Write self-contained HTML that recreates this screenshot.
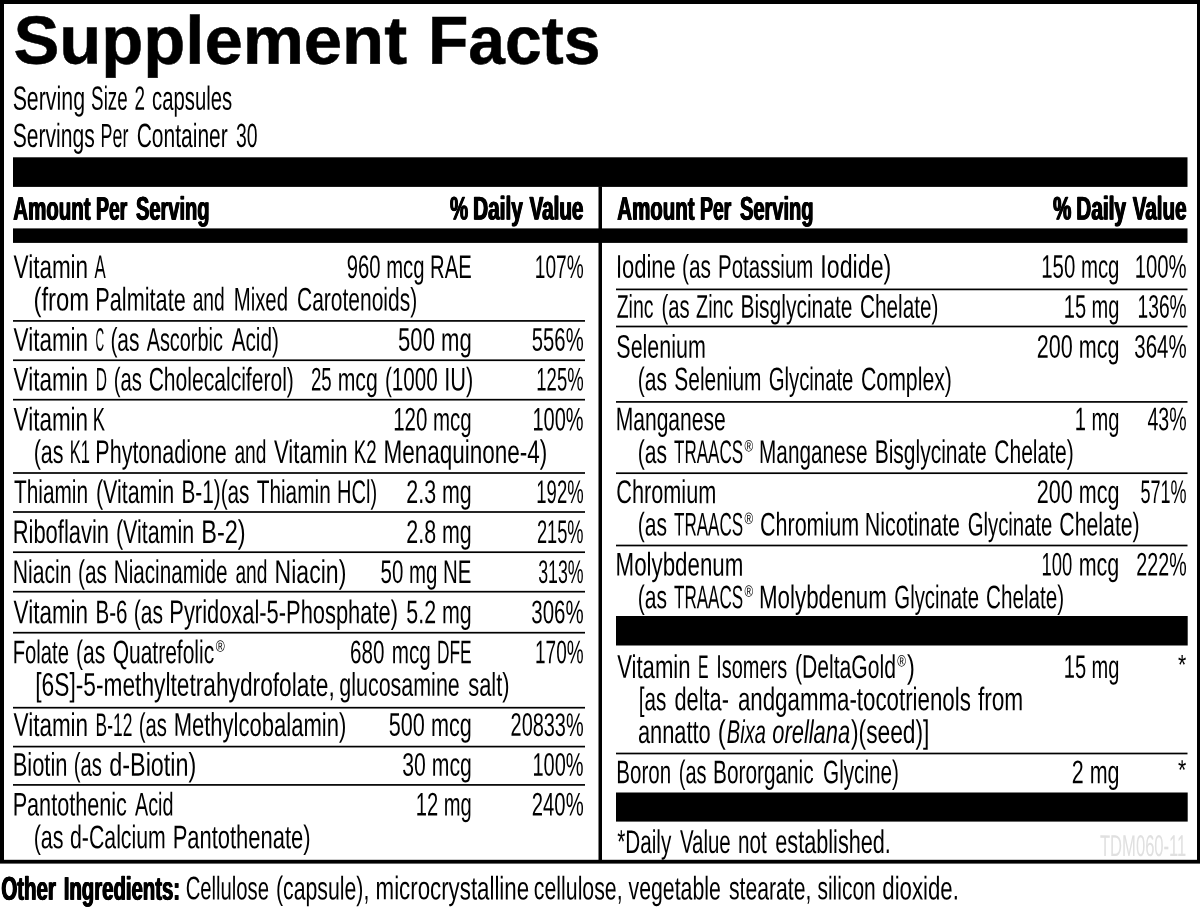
<!DOCTYPE html>
<html lang="en"><head><meta charset="utf-8"><title>Supplement Facts</title>
<style>
html,body{margin:0;padding:0;background:#fff}
#p{filter:grayscale(1);position:relative;width:1200px;height:919px;overflow:hidden;background:#fff;color:#000;font-family:"Liberation Sans",sans-serif}
#p span{position:absolute;left:0;top:0;white-space:nowrap;transform-origin:0 0;line-height:1;font-weight:400}
.r{font-size:32.7px}
.a{font-size:28px}
.h{font-size:33.5px}
.i{font-size:32.7px;font-style:italic}
#p .b{font-size:32.8px;font-weight:700;-webkit-text-stroke:.3px #000;text-shadow:.9px 0 0 #000,-.9px 0 0 #000}
#p .t{font-size:68px;font-weight:700;-webkit-text-stroke:.5px #000}
.g{font-size:30px;color:#e0e0e0}
.s{font-size:16.5px}
</style></head>
<body><div id="p">
<svg width="1200" height="919" viewBox="0 0 1200 919" style="position:absolute;left:0;top:0" fill="#000">
<rect x="0" y="0" width="1200" height="4"/>
<rect x="0" y="0" width="4" height="863"/>
<rect x="1197" y="0" width="3" height="863"/>
<rect x="0" y="859.8" width="1200" height="3.8"/>
<rect x="13" y="157.3" width="1174.5" height="29.6"/>
<rect x="13" y="228.4" width="1174.5" height="14.5"/>
<rect x="598.5" y="186.5" width="3.5" height="674"/>
<rect x="616" y="616" width="571.7" height="29.5"/>
<rect x="616" y="792.5" width="571.7" height="29.1"/>
<rect x="13" y="320.05" width="572" height="1.7"/>
<rect x="13" y="359.4" width="572" height="1.7"/>
<rect x="13" y="398.85" width="572" height="1.7"/>
<rect x="13" y="472.15" width="572" height="1.7"/>
<rect x="13" y="511.15" width="572" height="1.7"/>
<rect x="13" y="551.35" width="572" height="1.7"/>
<rect x="13" y="590.85" width="572" height="1.7"/>
<rect x="13" y="631.85" width="572" height="1.7"/>
<rect x="13" y="706.85" width="572" height="1.7"/>
<rect x="13" y="745.75" width="572" height="1.7"/>
<rect x="13" y="784.05" width="572" height="1.7"/>
<rect x="616" y="288.55" width="571.5" height="1.7"/>
<rect x="616" y="325.65" width="571.5" height="1.7"/>
<rect x="616" y="401.05" width="571.5" height="1.7"/>
<rect x="616" y="472.35" width="571.5" height="1.7"/>
<rect x="616" y="544.65" width="571.5" height="1.7"/>
<rect x="616" y="752.65" width="571.5" height="1.7"/>
</svg>
<div class="l"><span class="t" style="transform:translate(13.49px,5.58px) rotate(0.035deg) scaleX(1.0114)">Supplement</span></div>
<div class="l"><span class="t" style="transform:translate(428.02px,5.64px) rotate(0.037deg) scaleX(0.9708)">Facts</span></div>
<div class="l"><span class="h" style="transform:translate(12.66px,81.76px) rotate(0.056deg) scaleX(0.6372)">Serving</span> <span class="h" style="transform:translate(91.14px,81.78px) rotate(0.063deg) scaleX(0.5603)">Size</span> <span class="h" style="transform:translate(134.44px,81.79px) rotate(0.063deg) scaleX(0.5625)">2</span> <span class="h" style="transform:translate(152.09px,81.76px) rotate(0.059deg) scaleX(0.6055)">capsules</span></div>
<div class="l"><span class="h" style="transform:translate(12.67px,118.96px) rotate(0.056deg) scaleX(0.6299)">Servings</span> <span class="h" style="transform:translate(100.64px,118.98px) rotate(0.067deg) scaleX(0.5323)">Per</span> <span class="h" style="transform:translate(136.67px,118.95px) rotate(0.057deg) scaleX(0.6274)">Container</span> <span class="h" style="transform:translate(236.12px,118.99px) rotate(0.061deg) scaleX(0.5781)">30</span></div>
<div class="l"><span class="b" style="transform:translate(13.30px,192.76px) rotate(0.057deg) scaleX(0.6245)">Amount</span> <span class="b" style="transform:translate(96.13px,192.78px) rotate(0.061deg) scaleX(0.5869)">Per</span> <span class="b" style="transform:translate(136.00px,192.76px) rotate(0.058deg) scaleX(0.6113)">Serving</span></div>
<div class="l"><span class="b" style="transform:translate(450.00px,192.54px) rotate(0.057deg) scaleX(0.6207)">%</span> <span class="b" style="transform:translate(473.13px,192.53px) rotate(0.056deg) scaleX(0.6338)">Daily</span> <span class="b" style="transform:translate(529.60px,192.52px) rotate(0.057deg) scaleX(0.6273)">Value</span></div>
<div class="l"><span class="b" style="transform:translate(617.30px,192.76px) rotate(0.057deg) scaleX(0.6245)">Amount</span> <span class="b" style="transform:translate(700.13px,192.78px) rotate(0.061deg) scaleX(0.5869)">Per</span> <span class="b" style="transform:translate(740.00px,192.76px) rotate(0.058deg) scaleX(0.6113)">Serving</span></div>
<div class="l"><span class="b" style="transform:translate(1053.20px,192.54px) rotate(0.057deg) scaleX(0.6207)">%</span> <span class="b" style="transform:translate(1076.33px,192.53px) rotate(0.056deg) scaleX(0.6338)">Daily</span> <span class="b" style="transform:translate(1132.80px,192.52px) rotate(0.057deg) scaleX(0.6273)">Value</span></div>
<div class="l"><span class="r" style="transform:translate(13.60px,250.92px) rotate(0.052deg) scaleX(0.6873)">Vitamin</span> <span class="r" style="transform:translate(94.50px,250.94px) rotate(0.069deg) scaleX(0.5136)">A</span></div>
<div class="l"><span class="r" style="transform:translate(346.88px,250.89px) rotate(0.057deg) scaleX(0.6192)">960 mcg RAE</span></div>
<div class="l"><span class="r" style="transform:translate(534.83px,250.92px) rotate(0.061deg) scaleX(0.5836)">107%</span></div>
<div class="l"><span class="r" style="transform:translate(33.54px,283.58px) rotate(0.049deg) scaleX(0.7298)">(from</span> <span class="r" style="transform:translate(95.37px,283.56px) rotate(0.054deg) scaleX(0.6635)">Palmitate</span> <span class="r" style="transform:translate(192.71px,283.58px) rotate(0.061deg) scaleX(0.5863)">and</span> <span class="r" style="transform:translate(233.75px,283.57px) rotate(0.057deg) scaleX(0.6225)">Mixed</span> <span class="r" style="transform:translate(297.06px,283.54px) rotate(0.055deg) scaleX(0.6420)">Carotenoids)</span></div>
<div class="l"><span class="r" style="transform:translate(13.60px,323.77px) rotate(0.052deg) scaleX(0.6873)">Vitamin</span> <span class="r" style="transform:translate(95.64px,323.79px) rotate(0.098deg) scaleX(0.3636)">C</span> <span class="r" style="transform:translate(110.42px,323.79px) rotate(0.055deg) scaleX(0.6409)">(as</span> <span class="r" style="transform:translate(146.70px,323.76px) rotate(0.058deg) scaleX(0.6080)">Ascorbic</span> <span class="r" style="transform:translate(231.70px,323.78px) rotate(0.056deg) scaleX(0.6337)">Acid)</span></div>
<div class="l"><span class="r" style="transform:translate(398.07px,323.77px) rotate(0.053deg) scaleX(0.6762)">500 mg</span></div>
<div class="l"><span class="r" style="transform:translate(531.88px,323.77px) rotate(0.057deg) scaleX(0.6193)">556%</span></div>
<div class="l"><span class="r" style="transform:translate(13.60px,363.57px) rotate(0.052deg) scaleX(0.6873)">Vitamin</span> <span class="r" style="transform:translate(95.75px,363.59px) rotate(0.075deg) scaleX(0.4762)">D</span> <span class="r" style="transform:translate(113.76px,363.59px) rotate(0.057deg) scaleX(0.6200)">(as</span> <span class="r" style="transform:translate(148.66px,363.53px) rotate(0.055deg) scaleX(0.6448)">Cholecalciferol)</span></div>
<div class="l"><span class="r" style="transform:translate(310.93px,363.59px) rotate(0.062deg) scaleX(0.5705)">25</span> <span class="r" style="transform:translate(337.70px,363.58px) rotate(0.055deg) scaleX(0.6488)">mcg</span> <span class="r" style="transform:translate(384.94px,363.57px) rotate(0.056deg) scaleX(0.6317)">(1000</span> <span class="r" style="transform:translate(444.20px,363.59px) rotate(0.053deg) scaleX(0.6669)">IU)</span></div>
<div class="l"><span class="r" style="transform:translate(536.37px,363.57px) rotate(0.063deg) scaleX(0.5650)">125%</span></div>
<div class="l"><span class="r" style="transform:translate(13.60px,403.47px) rotate(0.052deg) scaleX(0.6873)">Vitamin</span> <span class="r" style="transform:translate(92.88px,403.49px) rotate(0.063deg) scaleX(0.5600)">K</span></div>
<div class="l"><span class="r" style="transform:translate(393.25px,403.46px) rotate(0.057deg) scaleX(0.6261)">120 mcg</span></div>
<div class="l"><span class="r" style="transform:translate(532.53px,403.47px) rotate(0.058deg) scaleX(0.6115)">100%</span></div>
<div class="l"><span class="r" style="transform:translate(33.69px,435.94px) rotate(0.054deg) scaleX(0.6572)">(as</span> <span class="r" style="transform:translate(69.69px,435.94px) rotate(0.070deg) scaleX(0.5054)">K1</span> <span class="r" style="transform:translate(95.39px,435.89px) rotate(0.054deg) scaleX(0.6572)">Phytonadione</span> <span class="r" style="transform:translate(234.41px,435.93px) rotate(0.061deg) scaleX(0.5863)">and</span> <span class="r" style="transform:translate(274.00px,435.92px) rotate(0.052deg) scaleX(0.6780)">Vitamin</span> <span class="r" style="transform:translate(353.86px,435.94px) rotate(0.062deg) scaleX(0.5706)">K2</span> <span class="r" style="transform:translate(383.62px,435.88px) rotate(0.052deg) scaleX(0.6875)">Menaquinone-4)</span></div>
<div class="l"><span class="r" style="transform:translate(14.00px,475.96px) rotate(0.056deg) scaleX(0.6370)">Thiamin</span> <span class="r" style="transform:translate(95.99px,475.96px) rotate(0.054deg) scaleX(0.6545)">(Vitamin</span> <span class="r" style="transform:translate(181.43px,475.97px) rotate(0.056deg) scaleX(0.6354)">B-1)(as</span> <span class="r" style="transform:translate(256.70px,475.96px) rotate(0.056deg) scaleX(0.6370)">Thiamin</span> <span class="r" style="transform:translate(337.07px,475.98px) rotate(0.058deg) scaleX(0.6133)">HCl)</span></div>
<div class="l"><span class="r" style="transform:translate(406.35px,475.97px) rotate(0.054deg) scaleX(0.6547)">2.3 mg</span></div>
<div class="l"><span class="r" style="transform:translate(536.37px,475.97px) rotate(0.063deg) scaleX(0.5650)">192%</span></div>
<div class="l"><span class="r" style="transform:translate(12.66px,515.96px) rotate(0.053deg) scaleX(0.6719)">Riboflavin</span> <span class="r" style="transform:translate(115.99px,515.96px) rotate(0.054deg) scaleX(0.6545)">(Vitamin</span> <span class="r" style="transform:translate(201.26px,515.98px) rotate(0.049deg) scaleX(0.7189)">B-2)</span></div>
<div class="l"><span class="r" style="transform:translate(406.35px,515.97px) rotate(0.054deg) scaleX(0.6547)">2.8 mg</span></div>
<div class="l"><span class="r" style="transform:translate(536.94px,515.97px) rotate(0.064deg) scaleX(0.5580)">215%</span></div>
<div class="l"><span class="r" style="transform:translate(12.71px,555.97px) rotate(0.055deg) scaleX(0.6469)">Niacin</span> <span class="r" style="transform:translate(78.03px,555.99px) rotate(0.056deg) scaleX(0.6363)">(as</span> <span class="r" style="transform:translate(113.74px,555.94px) rotate(0.056deg) scaleX(0.6322)">Niacinamide</span> <span class="r" style="transform:translate(235.41px,555.98px) rotate(0.061deg) scaleX(0.5863)">and</span> <span class="r" style="transform:translate(274.59px,555.97px) rotate(0.050deg) scaleX(0.7053)">Niacin)</span></div>
<div class="l"><span class="r" style="transform:translate(380.62px,555.95px) rotate(0.057deg) scaleX(0.6253)">50 mg NE</span></div>
<div class="l"><span class="r" style="transform:translate(538.21px,555.97px) rotate(0.065deg) scaleX(0.5427)">313%</span></div>
<div class="l"><span class="r" style="transform:translate(13.60px,596.17px) rotate(0.052deg) scaleX(0.6873)">Vitamin</span> <span class="r" style="transform:translate(95.44px,596.18px) rotate(0.056deg) scaleX(0.6291)">B-6</span> <span class="r" style="transform:translate(133.71px,596.19px) rotate(0.055deg) scaleX(0.6432)">(as</span> <span class="r" style="transform:translate(169.36px,596.09px) rotate(0.053deg) scaleX(0.6693)">Pyridoxal-5-Phosphate)</span></div>
<div class="l"><span class="r" style="transform:translate(406.35px,596.17px) rotate(0.054deg) scaleX(0.6547)">5.2 mg</span></div>
<div class="l"><span class="r" style="transform:translate(531.37px,596.17px) rotate(0.057deg) scaleX(0.6255)">306%</span></div>
<div class="l"><span class="r" style="transform:translate(12.76px,636.27px) rotate(0.057deg) scaleX(0.6194)">Folate</span> <span class="r" style="transform:translate(76.01px,636.29px) rotate(0.055deg) scaleX(0.6432)">(as</span> <span class="r" style="transform:translate(112.66px,636.25px) rotate(0.055deg) scaleX(0.6426)">Quatrefolic</span></div>
<div class="l"><span class="s" style="transform:translate(215.70px,637.80px) rotate(0.048deg) scaleX(0.7417)">®</span></div>
<div class="l"><span class="r" style="transform:translate(350.07px,636.28px) rotate(0.056deg) scaleX(0.6303)">680</span> <span class="r" style="transform:translate(391.74px,636.28px) rotate(0.056deg) scaleX(0.6317)">mcg</span> <span class="r" style="transform:translate(436.94px,636.28px) rotate(0.067deg) scaleX(0.5306)">DFE</span></div>
<div class="l"><span class="r" style="transform:translate(535.09px,636.27px) rotate(0.061deg) scaleX(0.5805)">170%</span></div>
<div class="l"><span class="r" style="transform:translate(35.31px,668.67px) rotate(0.051deg) scaleX(0.6954)">[6S]-5-methyltetrahydrofolate,</span> <span class="r" style="transform:translate(339.34px,668.74px) rotate(0.054deg) scaleX(0.6562)">glucosamine</span> <span class="r" style="transform:translate(468.30px,668.78px) rotate(0.053deg) scaleX(0.6682)">salt)</span></div>
<div class="l"><span class="r" style="transform:translate(13.60px,708.87px) rotate(0.052deg) scaleX(0.6873)">Vitamin</span> <span class="r" style="transform:translate(95.64px,708.88px) rotate(0.067deg) scaleX(0.5314)">B-12</span> <span class="r" style="transform:translate(138.76px,708.89px) rotate(0.057deg) scaleX(0.6200)">(as</span> <span class="r" style="transform:translate(173.65px,708.82px) rotate(0.053deg) scaleX(0.6739)">Methylcobalamin)</span></div>
<div class="l"><span class="r" style="transform:translate(388.84px,708.86px) rotate(0.054deg) scaleX(0.6616)">500 mcg</span></div>
<div class="l"><span class="r" style="transform:translate(510.64px,708.86px) rotate(0.058deg) scaleX(0.6086)">20833%</span></div>
<div class="l"><span class="r" style="transform:translate(12.66px,748.67px) rotate(0.053deg) scaleX(0.6706)">Biotin</span> <span class="r" style="transform:translate(73.76px,748.69px) rotate(0.057deg) scaleX(0.6200)">(as</span> <span class="r" style="transform:translate(109.28px,748.66px) rotate(0.050deg) scaleX(0.7153)">d-Biotin)</span></div>
<div class="l"><span class="r" style="transform:translate(402.35px,748.67px) rotate(0.055deg) scaleX(0.6475)">30 mcg</span></div>
<div class="l"><span class="r" style="transform:translate(532.53px,748.67px) rotate(0.058deg) scaleX(0.6115)">100%</span></div>
<div class="l"><span class="r" style="transform:translate(12.68px,788.45px) rotate(0.054deg) scaleX(0.6618)">Pantothenic</span> <span class="r" style="transform:translate(135.00px,788.48px) rotate(0.059deg) scaleX(0.6041)">Acid</span></div>
<div class="l"><span class="r" style="transform:translate(415.77px,788.47px) rotate(0.058deg) scaleX(0.6160)">12 mg</span></div>
<div class="l"><span class="r" style="transform:translate(531.88px,788.47px) rotate(0.057deg) scaleX(0.6193)">240%</span></div>
<div class="l"><span class="r" style="transform:translate(33.69px,821.19px) rotate(0.054deg) scaleX(0.6572)">(as</span> <span class="r" style="transform:translate(70.05px,821.15px) rotate(0.055deg) scaleX(0.6508)">d-Calcium</span> <span class="r" style="transform:translate(172.66px,821.14px) rotate(0.053deg) scaleX(0.6715)">Pantothenate)</span></div>
<div class="l"><span class="r" style="transform:translate(615.99px,250.67px) rotate(0.053deg) scaleX(0.6715)">Iodine</span> <span class="r" style="transform:translate(682.03px,250.69px) rotate(0.056deg) scaleX(0.6363)">(as</span> <span class="r" style="transform:translate(718.05px,250.65px) rotate(0.057deg) scaleX(0.6239)">Potassium</span> <span class="r" style="transform:translate(820.37px,250.67px) rotate(0.050deg) scaleX(0.7101)">Iodide)</span></div>
<div class="l"><span class="r" style="transform:translate(1041.25px,250.66px) rotate(0.057deg) scaleX(0.6240)">150 mcg</span></div>
<div class="l"><span class="r" style="transform:translate(1134.76px,250.67px) rotate(0.057deg) scaleX(0.6208)">100%</span></div>
<div class="l"><span class="r" style="transform:translate(616.70px,290.68px) rotate(0.060deg) scaleX(0.5959)">Zinc</span> <span class="r" style="transform:translate(661.46px,290.69px) rotate(0.058deg) scaleX(0.6177)">(as</span> <span class="r" style="transform:translate(696.09px,290.68px) rotate(0.059deg) scaleX(0.6059)">Zinc</span> <span class="r" style="transform:translate(740.42px,290.65px) rotate(0.055deg) scaleX(0.6424)">Bisglycinate</span> <span class="r" style="transform:translate(860.07px,290.66px) rotate(0.056deg) scaleX(0.6348)">Chelate)</span></div>
<div class="l"><span class="r" style="transform:translate(1063.77px,290.67px) rotate(0.058deg) scaleX(0.6131)">15 mg</span></div>
<div class="l"><span class="r" style="transform:translate(1137.58px,290.67px) rotate(0.061deg) scaleX(0.5867)">136%</span></div>
<div class="l"><span class="r" style="transform:translate(616.34px,330.66px) rotate(0.054deg) scaleX(0.6565)">Selenium</span></div>
<div class="l"><span class="r" style="transform:translate(1036.84px,330.66px) rotate(0.054deg) scaleX(0.6595)">200 mcg</span></div>
<div class="l"><span class="r" style="transform:translate(1134.37px,330.67px) rotate(0.057deg) scaleX(0.6255)">364%</span></div>
<div class="l"><span class="r" style="transform:translate(637.71px,363.19px) rotate(0.055deg) scaleX(0.6432)">(as</span> <span class="r" style="transform:translate(674.36px,363.16px) rotate(0.056deg) scaleX(0.6393)">Selenium</span> <span class="r" style="transform:translate(768.68px,363.16px) rotate(0.057deg) scaleX(0.6220)">Glycinate</span> <span class="r" style="transform:translate(861.05px,363.16px) rotate(0.055deg) scaleX(0.6497)">Complex)</span></div>
<div class="l"><span class="r" style="transform:translate(615.71px,403.25px) rotate(0.055deg) scaleX(0.6442)">Manganese</span></div>
<div class="l"><span class="r" style="transform:translate(1074.77px,403.28px) rotate(0.058deg) scaleX(0.6152)">1 mg</span></div>
<div class="l"><span class="r" style="transform:translate(1147.50px,403.28px) rotate(0.059deg) scaleX(0.5982)">43%</span></div>
<div class="l"><span class="r" style="transform:translate(637.71px,435.99px) rotate(0.055deg) scaleX(0.6432)">(as</span> <span class="r" style="transform:translate(674.00px,435.96px) rotate(0.068deg) scaleX(0.5213)">TRAACS</span></div>
<div class="l"><span class="s" style="transform:translate(744.60px,437.50px) rotate(0.050deg) scaleX(0.7083)">®</span></div>
<div class="l"><span class="r" style="transform:translate(759.13px,435.95px) rotate(0.056deg) scaleX(0.6341)">Manganese</span> <span class="r" style="transform:translate(874.72px,435.95px) rotate(0.055deg) scaleX(0.6424)">Bisglycinate</span> <span class="r" style="transform:translate(994.36px,435.96px) rotate(0.055deg) scaleX(0.6423)">Chelate)</span></div>
<div class="l"><span class="r" style="transform:translate(616.34px,476.05px) rotate(0.054deg) scaleX(0.6632)">Chromium</span></div>
<div class="l"><span class="r" style="transform:translate(1036.84px,476.06px) rotate(0.054deg) scaleX(0.6595)">200 mcg</span></div>
<div class="l"><span class="r" style="transform:translate(1140.45px,476.07px) rotate(0.064deg) scaleX(0.5519)">571%</span></div>
<div class="l"><span class="r" style="transform:translate(637.71px,508.49px) rotate(0.055deg) scaleX(0.6432)">(as</span> <span class="r" style="transform:translate(674.00px,508.46px) rotate(0.068deg) scaleX(0.5213)">TRAACS</span></div>
<div class="l"><span class="s" style="transform:translate(744.60px,510.00px) rotate(0.050deg) scaleX(0.7083)">®</span></div>
<div class="l"><span class="r" style="transform:translate(760.04px,508.45px) rotate(0.054deg) scaleX(0.6572)">Chromium</span> <span class="r" style="transform:translate(864.69px,508.45px) rotate(0.054deg) scaleX(0.6562)">Nicotinate</span> <span class="r" style="transform:translate(967.68px,508.46px) rotate(0.057deg) scaleX(0.6220)">Glycinate</span> <span class="r" style="transform:translate(1059.35px,508.46px) rotate(0.055deg) scaleX(0.6506)">Chelate)</span></div>
<div class="l"><span class="r" style="transform:translate(615.64px,548.54px) rotate(0.052deg) scaleX(0.6824)">Molybdenum</span></div>
<div class="l"><span class="r" style="transform:translate(1041.57px,548.58px) rotate(0.063deg) scaleX(0.5647)">100</span> <span class="r" style="transform:translate(1078.69px,548.58px) rotate(0.054deg) scaleX(0.6573)">mcg</span></div>
<div class="l"><span class="r" style="transform:translate(1136.40px,548.57px) rotate(0.059deg) scaleX(0.6009)">222%</span></div>
<div class="l"><span class="r" style="transform:translate(637.71px,581.19px) rotate(0.055deg) scaleX(0.6432)">(as</span> <span class="r" style="transform:translate(674.00px,581.16px) rotate(0.068deg) scaleX(0.5213)">TRAACS</span></div>
<div class="l"><span class="s" style="transform:translate(744.60px,582.70px) rotate(0.050deg) scaleX(0.7083)">®</span></div>
<div class="l"><span class="r" style="transform:translate(759.03px,581.14px) rotate(0.052deg) scaleX(0.6829)">Molybdenum</span> <span class="r" style="transform:translate(894.38px,581.16px) rotate(0.057deg) scaleX(0.6213)">Glycinate</span> <span class="r" style="transform:translate(986.07px,581.16px) rotate(0.056deg) scaleX(0.6323)">Chelate)</span></div>
<div class="l"><span class="r" style="transform:translate(617.20px,650.87px) rotate(0.052deg) scaleX(0.6771)">Vitamin</span> <span class="r" style="transform:translate(698.03px,650.89px) rotate(0.073deg) scaleX(0.4842)">E</span> <span class="r" style="transform:translate(716.27px,650.86px) rotate(0.058deg) scaleX(0.6103)">Isomers</span> <span class="r" style="transform:translate(794.91px,650.85px) rotate(0.055deg) scaleX(0.6468)">(DeltaGold</span></div>
<div class="l"><span class="s" style="transform:translate(897.30px,652.40px) rotate(0.050deg) scaleX(0.7167)">®</span></div>
<div class="l"><span class="r" style="transform:translate(907.00px,650.90px) rotate(0.049deg) scaleX(0.7222)">)</span></div>
<div class="l"><span class="r" style="transform:translate(1063.77px,650.87px) rotate(0.058deg) scaleX(0.6131)">15 mg</span></div>
<div class="l"><span class="a" style="transform:translate(1177.90px,651.30px) rotate(0.047deg) scaleX(0.7545)">*</span></div>
<div class="l"><span class="r" style="transform:translate(638.74px,683.29px) rotate(0.056deg) scaleX(0.6301)">[as</span> <span class="r" style="transform:translate(674.54px,683.27px) rotate(0.053deg) scaleX(0.6647)">delta-</span> <span class="r" style="transform:translate(737.92px,683.19px) rotate(0.052deg) scaleX(0.6819)">andgamma-tocotrienols</span> <span class="r" style="transform:translate(977.90px,683.28px) rotate(0.051deg) scaleX(0.6937)">from</span></div>
<div class="l"><span class="r" style="transform:translate(637.93px,715.97px) rotate(0.053deg) scaleX(0.6680)">annatto</span> <span class="r" style="transform:translate(717.73px,716.00px) rotate(0.048deg) scaleX(0.7333)">(</span></div>
<div class="l"><span class="i" style="transform:translate(726.89px,715.98px) rotate(0.058deg) scaleX(0.6121)">Bixa</span> <span class="i" style="transform:translate(772.33px,715.96px) rotate(0.053deg) scaleX(0.6688)">orellana</span></div>
<div class="l"><span class="r" style="transform:translate(851.00px,715.97px) rotate(0.051deg) scaleX(0.6966)">)(seed)]</span></div>
<div class="l"><span class="r" style="transform:translate(616.34px,756.17px) rotate(0.057deg) scaleX(0.6282)">Boron</span> <span class="r" style="transform:translate(678.78px,756.19px) rotate(0.058deg) scaleX(0.6107)">(as</span> <span class="r" style="transform:translate(713.13px,756.15px) rotate(0.056deg) scaleX(0.6357)">Bororganic</span> <span class="r" style="transform:translate(823.07px,756.16px) rotate(0.056deg) scaleX(0.6334)">Glycine)</span></div>
<div class="l"><span class="r" style="transform:translate(1071.84px,756.18px) rotate(0.054deg) scaleX(0.6561)">2 mg</span></div>
<div class="l"><span class="a" style="transform:translate(1177.90px,756.60px) rotate(0.047deg) scaleX(0.7545)">*</span></div>
<div class="l"><span class="r" style="transform:translate(617.30px,825.87px) rotate(0.056deg) scaleX(0.6323)">*Daily</span> <span class="r" style="transform:translate(680.00px,825.87px) rotate(0.057deg) scaleX(0.6250)">Value</span> <span class="r" style="transform:translate(738.04px,825.89px) rotate(0.056deg) scaleX(0.6319)">not</span> <span class="r" style="transform:translate(775.34px,825.85px) rotate(0.054deg) scaleX(0.6623)">established.</span></div>
<div class="l"><span class="g" style="transform:translate(1100.00px,830.95px) rotate(0.064deg) scaleX(0.5531)">TDM060-11</span></div>
<div class="l"><span class="b" style="transform:translate(1.38px,872.67px) rotate(0.057deg) scaleX(0.6228)">Other</span> <span class="b" style="transform:translate(63.76px,872.64px) rotate(0.057deg) scaleX(0.6199)">Ingredients:</span></div>
<div class="l"><span class="r" style="transform:translate(185.68px,872.36px) rotate(0.057deg) scaleX(0.6199)">Cellulose</span> <span class="r" style="transform:translate(276.00px,872.36px) rotate(0.055deg) scaleX(0.6505)">(capsule),</span> <span class="r" style="transform:translate(375.64px,872.33px) rotate(0.052deg) scaleX(0.6814)">microcrystalline</span> <span class="r" style="transform:translate(533.85px,872.36px) rotate(0.055deg) scaleX(0.6517)">cellulose,</span> <span class="r" style="transform:translate(628.60px,872.36px) rotate(0.055deg) scaleX(0.6501)">vegetable</span> <span class="r" style="transform:translate(729.00px,872.36px) rotate(0.055deg) scaleX(0.6474)">stearate,</span> <span class="r" style="transform:translate(817.50px,872.37px) rotate(0.055deg) scaleX(0.6414)">silicon</span> <span class="r" style="transform:translate(882.32px,872.37px) rotate(0.052deg) scaleX(0.6798)">dioxide.</span></div>
</div></body></html>
